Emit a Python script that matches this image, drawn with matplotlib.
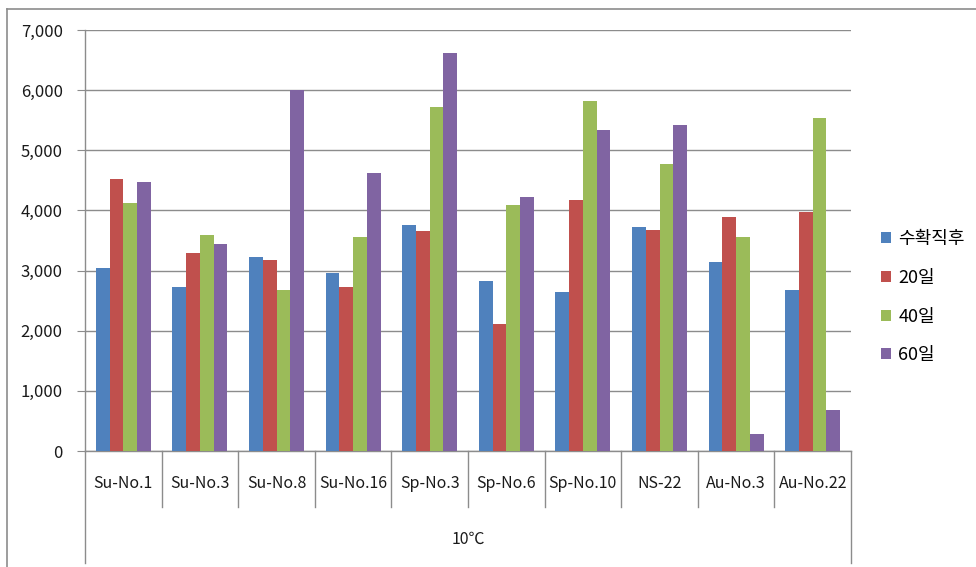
import matplotlib
matplotlib.use("Agg")
import matplotlib.pyplot as plt
from matplotlib.lines import Line2D
from matplotlib.patches import Patch
from matplotlib.ticker import FuncFormatter

plt.rcParams['font.family'] = ['Noto Sans CJK KR', 'DejaVu Sans']

cultivars = ['Su-No.1', 'Su-No.3', 'Su-No.8', 'Su-No.16', 'Sp-No.3',
             'Sp-No.6', 'Sp-No.10', 'NS-22', 'Au-No.3', 'Au-No.22']
series_names = ['수확직후', '20일', '40일', '60일']
day0 = [3040, 2730, 3230, 2960, 3750, 2830, 2650, 3720, 3150, 2680]
day20 = [4520, 3290, 3180, 2730, 3650, 2110, 4170, 3670, 3890, 3970]
day40 = [4120, 3590, 2680, 3560, 5720, 4090, 5820, 4770, 3560, 5540]
day60 = [4470, 3440, 6000, 4620, 6620, 4220, 5340, 5420, 280, 680]
group_label = '10℃'
colors = ['#4F81BD', '#C0504D', '#9BBB59', '#8064A2']

W, H = 976, 567
fig = plt.figure(figsize=(W / 100, H / 100), dpi=100)
left, right, top, bottom = 85, 851, 30, 451
ax = fig.add_axes([left / W, 1 - bottom / H, (right - left) / W, (bottom - top) / H])

width = 0.18
n = len(cultivars)
for k, (vals, c) in enumerate(zip([day0, day20, day40, day60], colors)):
    xs = [i + (k - 1.5) * width for i in range(n)]
    ax.bar(xs, vals, width=width, color=c, linewidth=0, zorder=3)

ax.set_xlim(-0.5, n - 0.5)
ax.set_ylim(0, 7000)
ax.set_yticks(range(0, 7001, 1000))
ax.yaxis.set_major_formatter(FuncFormatter(lambda v, p: f'{int(v):,}'))
ax.grid(axis='y', color='#8c8c8c', linewidth=1.0, zorder=0)
ax.set_xticks([])
for s in ['top', 'right']:
    ax.spines[s].set_visible(False)
for s in ['left', 'bottom']:
    ax.spines[s].set_color('#8c8c8c')
    ax.spines[s].set_linewidth(1.0)
ax.tick_params(axis='y', length=6, color='#8c8c8c', labelsize=12, pad=10,
               labelcolor='#1a1a1a')

# category axis boxes below the plot
ph = bottom - top
trans = ax.get_xaxis_transform()
for k in range(n + 1):
    x = k - 0.5
    depth = 112 if k in (0, n) else 56
    ax.add_line(Line2D([x, x], [0, -depth / ph], transform=trans,
                       color='#8c8c8c', linewidth=1.0, clip_on=False))
for i, name in enumerate(cultivars):
    ax.text(i, -32 / ph, name, transform=trans, ha='center', va='center',
            fontsize=11.5, color='#1a1a1a')
ax.text((n - 1) / 2, -88 / ph, group_label, transform=trans, ha='center',
        va='center', fontsize=11.5, color='#1a1a1a')

# chart area border (top and left edges)
fig.add_artist(Line2D([7 / W, 1], [1 - 9 / H, 1 - 9 / H], transform=fig.transFigure,
                      color='#8c8c8c', linewidth=1.2))
fig.add_artist(Line2D([7 / W, 7 / W], [0, 1 - 9 / H], transform=fig.transFigure,
                      color='#8c8c8c', linewidth=1.2))

handles = [Patch(facecolor=c, edgecolor='none') for c in colors]
fig.legend(handles, series_names, loc='upper left',
           bbox_to_anchor=(872 / W, 1 - 221 / H), frameon=False,
           fontsize=13, handlelength=0.55, handleheight=0.55,
           handletextpad=0.4, labelspacing=1.15, borderpad=0)

fig.savefig('out.png', dpi=100)
